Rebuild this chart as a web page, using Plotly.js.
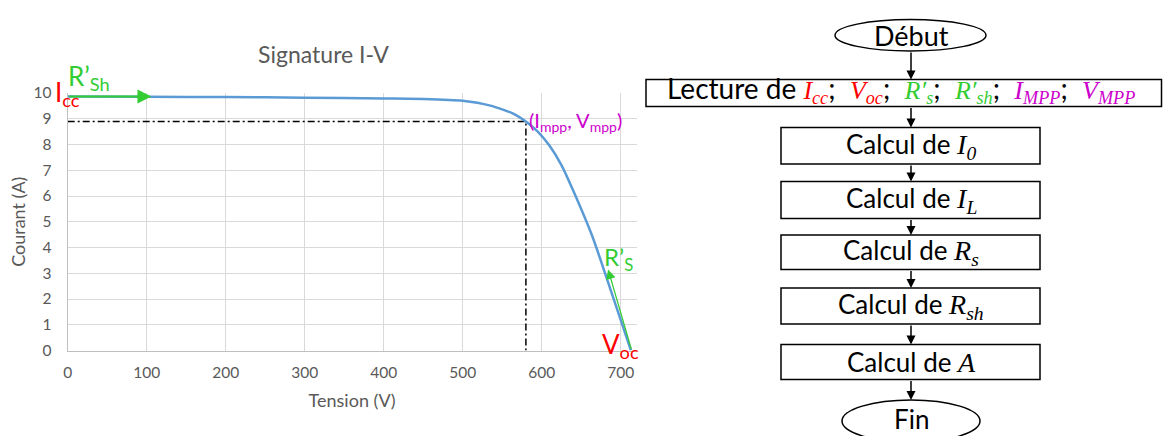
<!DOCTYPE html>
<html>
<head>
<meta charset="utf-8">
<script src="https://cdn.plot.ly/plotly-3.0.1.min.js"></script>
<style>html,body{margin:0;padding:0;background:#fff;}#chart{width:1170px;height:436px;}</style>
</head>
<body>
<div id="chart"></div>
<script>
// ---- data ----
const tension = [0, 100, 200, 300, 400, 450, 500, 535, 564, 580, 595, 610, 625, 640, 665, 690, 713];
const courant = [9.86, 9.85, 9.84, 9.82, 9.79, 9.77, 9.70, 9.51, 9.20, 8.89, 8.50, 7.95, 7.20, 6.20, 4.36, 2.10, 0];
const Vmpp = 580;
const Impp = 8.89;
const Isc = courant[0];
const Voc = tension[tension.length - 1];
const rsArrowTip = [684, 3.15];   // end of R's arrow (V, A)
const rshArrowTip = [106, 9.86];  // end of R'sh arrow (V, A)
const xTicks = [0, 100, 200, 300, 400, 500, 600, 700];
const yTicks = [0, 1, 2, 3, 4, 5, 6, 7, 8, 9, 10];
const stepBase = ['I', 'I', 'R', 'R', 'A'];
const stepSub = ['0', 'L', 's', 'sh', ''];

// ---- helpers ----
const W = 1170, H = 436;
const px = x => x / W;
const py = y => 1 - y / H;
const GREY = '#595959', RED = '#ff0000', GREEN = '#33cc33', MAG = '#cc00cc';
const SANS = 'Lato, "Open Sans", sans-serif';
const m = (base, sub, color, size) =>
  `<span style="font-family:'Liberation Serif';font-style:italic;font-size:${size || 28}px;color:${color}">${base}${sub ? '<sub>' + sub + '</sub>' : ''}</span>`;
const SEP = ';&nbsp;&nbsp;';

const traces = [
  {x: [0, Vmpp, Vmpp], y: [Impp, Impp, 0], mode: 'lines', type: 'scatter',
   line: {color: '#000', width: 1.5, dash: '7px,3px,2px,3px'}, hoverinfo: 'skip', showlegend: false},
  {x: tension, y: courant, mode: 'lines', type: 'scatter',
   line: {color: '#5b9bd5', width: 2.5, shape: 'spline', smoothing: 0.6}, showlegend: false}
];

const annotations = [
  // chart labels
  {xref: 'paper', yref: 'paper', x: px(53), y: py(93), xanchor: 'left', yanchor: 'middle', showarrow: false,
   text: 'I<sub>cc</sub>', font: {family: SANS, size: 26, color: RED}},
  {xref: 'paper', yref: 'paper', x: px(66), y: py(77), xanchor: 'left', yanchor: 'middle', showarrow: false,
   text: 'R’<sub>Sh</sub>', font: {family: SANS, size: 26, color: GREEN}},
  {xref: 'x', yref: 'y', x: Vmpp, y: Impp, xanchor: 'left', yanchor: 'middle', xshift: 1, showarrow: false,
   text: '(I<sub>mpp</sub>, V<sub>mpp</sub>)', font: {family: SANS, size: 20, color: MAG}},
  {xref: 'paper', yref: 'paper', x: px(602), y: py(258), xanchor: 'left', yanchor: 'middle', showarrow: false,
   text: 'R’<sub>S</sub>', font: {family: SANS, size: 24, color: GREEN}},
  {xref: 'x', yref: 'y', x: Voc, y: 0, xanchor: 'center', yanchor: 'middle', xshift: -10, yshift: 5, showarrow: false,
   text: 'V<sub>oc</sub>', font: {family: SANS, size: 26, color: RED}},
  // arrows on chart
  {xref: 'x', yref: 'y', axref: 'x', ayref: 'y', x: rshArrowTip[0], y: rshArrowTip[1], ax: 0, ay: Isc,
   text: '', showarrow: true, arrowhead: 2, arrowsize: 1.4, arrowwidth: 2, arrowcolor: GREEN},
  {xref: 'x', yref: 'y', axref: 'x', ayref: 'y', x: rsArrowTip[0], y: rsArrowTip[1], ax: Voc + 1, ay: 0,
   text: '', showarrow: true, arrowhead: 2, arrowsize: 1.6, arrowwidth: 1.2, arrowcolor: GREEN}
];

const shapes = [];

// ---- flowchart ----
const cx = 911;
function ellipse(x0, y0, x1, y1) {
  shapes.push({type: 'circle', xref: 'paper', yref: 'paper', x0: px(x0), x1: px(x1), y0: py(y1), y1: py(y0),
    line: {color: '#000', width: 1.5}, fillcolor: '#fff'});
}
function box(x0, y0, x1, y1) {
  shapes.push({type: 'rect', xref: 'paper', yref: 'paper', x0: px(x0), x1: px(x1), y0: py(y1), y1: py(y0),
    line: {color: '#000', width: 1.5}, fillcolor: '#fff'});
}
function label(text, x, y, size) {
  annotations.push({xref: 'paper', yref: 'paper', x: px(x), y: py(y), xanchor: 'center', yanchor: 'middle',
    showarrow: false, borderpad: 0, text: text, font: {family: SANS, size: size || 26, color: '#000'}});
}
function arrow(yFrom, yTo) {
  annotations.push({xref: 'paper', yref: 'paper', axref: 'paper', ayref: 'paper',
    x: px(cx), y: py(yTo), ax: px(cx), ay: py(yFrom), text: '', showarrow: true,
    arrowhead: 2, arrowsize: 1.2, arrowwidth: 1.5, arrowcolor: '#000'});
}

ellipse(835, 19.5, 986, 51);
label('Début', cx, 35, 27);
arrow(51, 79.5);
box(646, 79.5, 1161.5, 106.5);
label('Lecture de ' + m('I', 'cc', RED, 26) + SEP + m('V', 'oc', RED, 26) + SEP + m('R′', 's', GREEN, 26) + SEP +
      m('R′', 'sh', GREEN, 26) + SEP + m('I', 'MPP', MAG, 26) + SEP + m('V', 'MPP', MAG, 26), 901, 89.5, 28);

const boxTop = [127.5, 181.5, 235, 288, 344.5];
const boxBot = [164, 218.5, 269.5, 324, 379.5];
arrow(106.5, boxTop[0]);
stepBase.forEach((b, i) => {
  box(781, boxTop[i], 1040, boxBot[i]);
  label('Calcul de ' + m(b, stepSub[i], '#000'), cx, (boxTop[i] + boxBot[i]) / 2);
  if (i < stepBase.length - 1) arrow(boxBot[i], boxTop[i + 1]);
});
arrow(boxBot[4], 400);
ellipse(842, 400, 980, 442);
label('Fin', cx, 419, 26);

const layout = {
  width: W, height: H,
  margin: {l: 0, r: 0, t: 0, b: 0},
  paper_bgcolor: '#fff', plot_bgcolor: '#fff',
  showlegend: false,
  title: {text: 'Signature I-V', xref: 'container', yref: 'container', x: px(323.5), xanchor: 'center',
          y: py(55), yanchor: 'middle', font: {family: SANS, size: 23, color: GREY}},
  xaxis: {domain: [px(67.7), px(636.5)], range: [0, 720], tickmode: 'array', tickvals: xTicks,
          showgrid: true, gridcolor: '#d9d9d9', gridwidth: 1, zeroline: false,
          showline: true, linecolor: '#bfbfbf', linewidth: 1, ticks: '', ticklabelstandoff: 8,
          tickfont: {family: SANS, size: 15.5, color: GREY},
          title: {text: 'Tension (V)', font: {family: SANS, size: 18, color: GREY}, standoff: 14},
          fixedrange: true},
  yaxis: {domain: [py(350.5), py(93)], range: [0, 10], tickmode: 'array', tickvals: yTicks,
          showgrid: true, gridcolor: '#d9d9d9', gridwidth: 1, zeroline: false,
          showline: true, linecolor: '#bfbfbf', linewidth: 1, ticks: '', ticklabelstandoff: 12,
          tickfont: {family: SANS, size: 15.5, color: GREY},
          title: {text: 'Courant (A)', font: {family: SANS, size: 18, color: GREY}, standoff: 3},
          fixedrange: true},
  shapes: shapes,
  annotations: annotations
};

Plotly.newPlot('chart', traces, layout, {staticPlot: true, displayModeBar: false});
</script>
</body>
</html>
